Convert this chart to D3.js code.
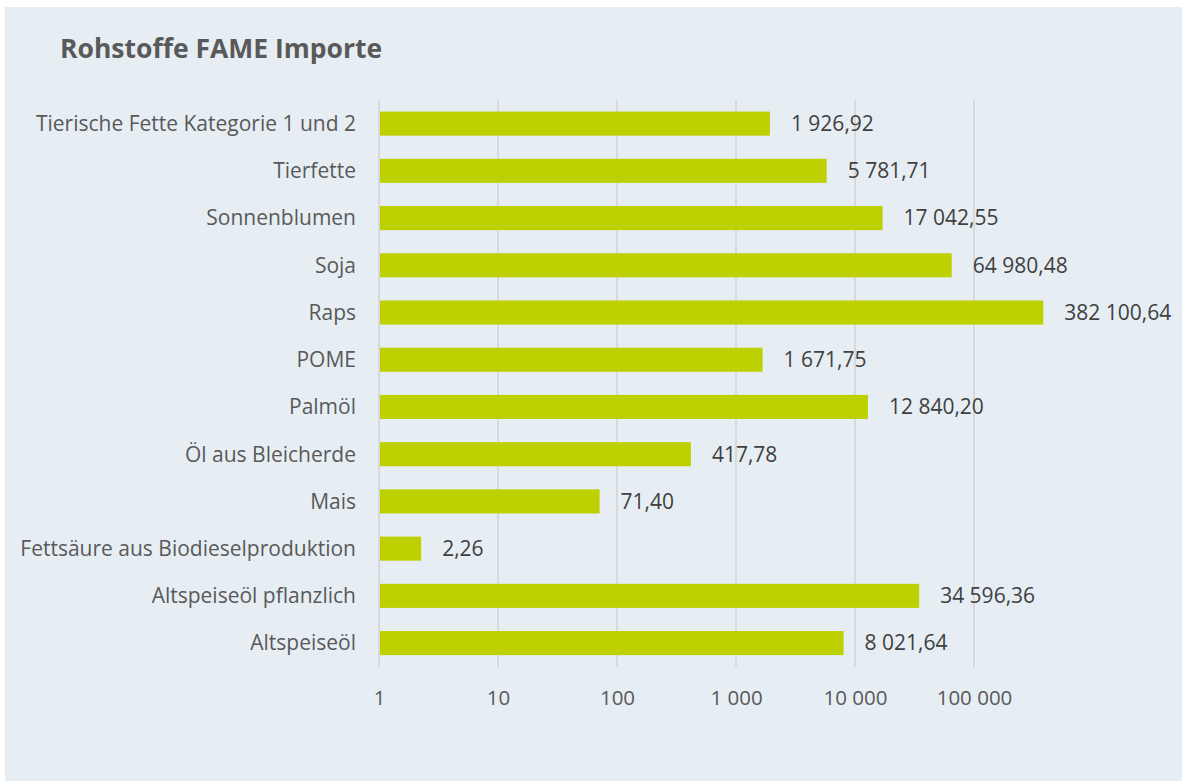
<!DOCTYPE html>
<html><head><meta charset="utf-8">
<script src="https://cdn.jsdelivr.net/npm/d3@7"></script>
<style>
html,body{margin:0;padding:0;background:#fff;}
svg{display:block;}
text{font-family:"Open Sans","Noto Sans",sans-serif;}
</style></head>
<body><svg id="c" width="1182" height="781"></svg>
<script>
const title = "Rohstoffe FAME Importe";
const categories = ["Tierische Fette Kategorie 1 und 2","Tierfette","Sonnenblumen","Soja","Raps","POME","Palmöl","Öl aus Bleicherde","Mais","Fettsäure aus Biodieselproduktion","Altspeiseöl pflanzlich","Altspeiseöl"];
const values = [1926.92,5781.71,17042.55,64980.48,382100.64,1671.75,12840.20,417.78,71.40,2.26,34596.36,8021.64];
const tickValues = [1,10,100,1000,10000,100000];

const loc = d3.formatLocale({decimal:",",thousands:" ",grouping:[3],currency:["",""]});
const fmtVal = loc.format(",.2f");
const fmtTick = loc.format(",d");

const svg = d3.select("#c");
svg.append("rect").attr("x",5).attr("y",7).attr("width",1177).attr("height",774).attr("fill","#e6eef4");

svg.append("text").attr("x",60).attr("y",58).text(title)
  .attr("font-size",26.5).attr("font-weight","bold").attr("fill","#595959");

const x = d3.scaleLog().domain([1,100000]).range([379,974]);
const y = d3.scaleBand().domain(categories).range([100,666.7]).paddingInner(0.49).paddingOuter(0.245);

// gridlines
svg.append("g").selectAll("line").data(tickValues).join("line")
  .attr("x1",d=>x(d)).attr("x2",d=>x(d)).attr("y1",100).attr("y2",666.7)
  .attr("stroke","#d9d9d9").attr("stroke-width",2);

// bars
svg.append("g").selectAll("rect").data(values).join("rect")
  .attr("x",x(1)+1).attr("y",(d,i)=>y(categories[i]))
  .attr("width",d=>x(d)-x(1)-1).attr("height",y.bandwidth())
  .attr("fill","#bdd000");

// value labels
svg.append("g").selectAll("text").data(values).join("text")
  .attr("x",d=>x(d)+21).attr("y",(d,i)=>y(categories[i])+y.bandwidth()/2)
  .attr("dy","0.35em").attr("font-size",21).attr("fill","#404040")
  .text(d=>fmtVal(d));

// category axis
const yAxis = svg.append("g").attr("transform","translate(356,0)")
  .call(d3.axisLeft(y).tickSize(0).tickPadding(0));
yAxis.select(".domain").remove();
yAxis.selectAll("text").attr("font-size",21).attr("fill","#595959").attr("dy","0.35em");

// x axis
const xAxis = svg.append("g").attr("transform","translate(0,685)")
  .call(d3.axisBottom(x).tickValues(tickValues).tickFormat(fmtTick).tickSize(0).tickPadding(0));
xAxis.select(".domain").remove();
xAxis.selectAll("text").attr("font-size",20.5).attr("fill","#595959").attr("dy","0.35em").attr("y",13);
</script></body></html>
